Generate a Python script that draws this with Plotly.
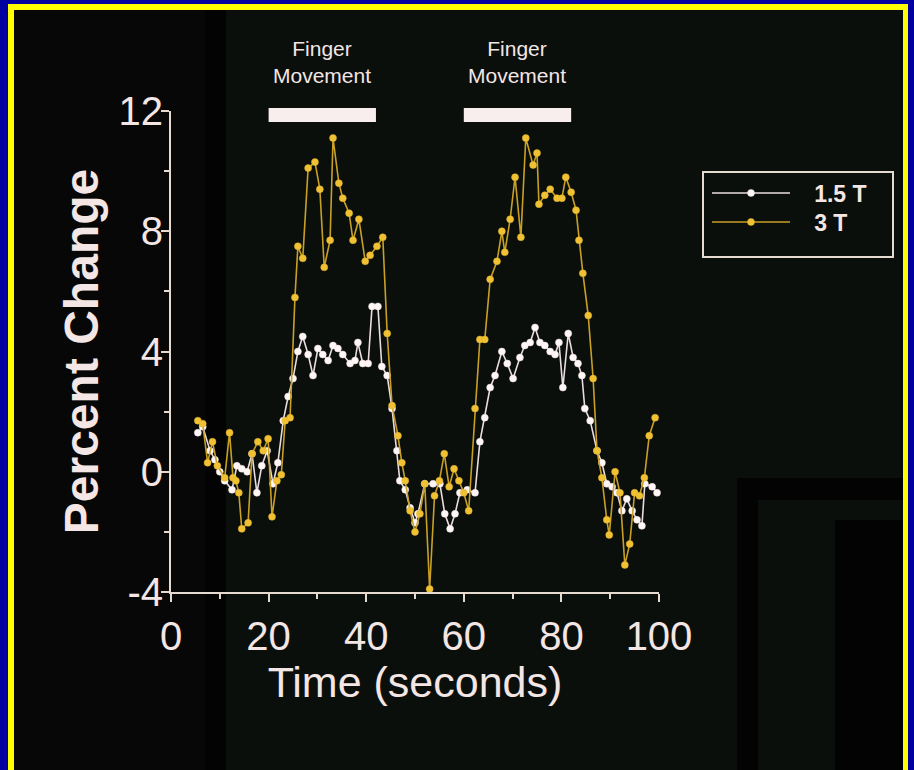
import plotly.graph_objects as go

# ---- data ----
t_15 = [5.5, 6.5, 8, 9, 10, 11, 12.5, 13.5, 14.5, 15.6, 16.6, 17.6, 18.6, 19.7, 20.9, 21.9,
        23, 24, 25, 26, 27, 28.1, 29.1, 30.1, 31.1, 32.2, 33.2, 34.2, 35.2, 36.7, 37.7, 38.3,
        39.3, 40.4, 41.2, 42.4, 43.2, 44.3, 45.3, 46.3, 46.9, 48, 49, 50, 50.6, 52, 53.7, 55.1,
        56.1, 57.2, 58.2, 59.2, 60.7, 62.3, 63.3, 64.3, 65.4, 66.4, 67.8, 68.9, 70.1, 71.5, 72.5,
        73.6, 74.6, 75.6, 76.6, 77.7, 78.7, 79.5, 80.3, 81.4, 82.4, 83.4, 84.2, 84.8, 85.9, 87.3,
        88.3, 89.3, 90.4, 91.4, 92.4, 93.4, 94.5, 95.5, 96.5, 97.1, 98.6, 99.6]
v_15 = [1.3, 1.5, 0.7, 0.4, 0.0, -0.3, -0.6, 0.2, 0.1, 0.0, 0.6, -0.7, 0.2, 0.7, -0.4, 0.3,
        1.7, 2.5, 3.1, 4.0, 4.5, 3.9, 3.2, 4.1, 3.9, 3.7, 4.2, 4.1, 3.9, 3.6, 3.7, 4.3,
        3.6, 3.6, 5.5, 5.5, 3.5, 3.2, 2.1, 0.7, -0.3, -0.6, -1.2, -1.7, -1.4, -0.4, -0.4, -0.4,
        -1.4, -1.9, -1.4, -0.7, -0.6, -0.7, 1.0, 1.8, 2.8, 3.2, 4.0, 3.6, 3.1, 3.8, 4.2,
        4.3, 4.8, 4.3, 4.2, 4.0, 3.9, 4.3, 2.8, 4.6, 3.8, 3.6, 3.2, 2.1, 1.7, 0.7,
        0.3, -0.4, -0.5, -0.7, -1.3, -0.9, -1.3, -1.6, -1.8, -0.4, -0.5, -0.7]

t_3 = [5.5, 6.5, 7.5, 8.5, 9.5, 11, 12, 12.7, 13.3, 13.9, 14.5, 15.8, 16.6, 17.8, 18.9, 19.9,
       20.7, 21.7, 22.6, 23.4, 24.4, 25.4, 26, 27, 28.1, 29.5, 30.5, 31.4, 32.6, 33.2, 34.4,
       35.2, 36.5, 37.3, 38.5, 39.8, 40.8, 42.2, 43.4, 44.3, 45.3, 46.5, 47.3, 48, 49, 50,
       51, 52, 53, 54, 55, 56, 57, 58, 59, 60, 61, 62.3, 63.3, 64.3, 65.4, 66.8, 67.8, 68.4,
       69.5, 70.5, 71.7, 72.7, 74.2, 75, 75.4, 76.6, 77.7, 79.1, 80.1, 80.9, 82, 83, 83.6,
       84.4, 85.5, 86.5, 87.3, 88.3, 89.3, 89.8, 91, 92, 93, 94, 95, 96, 97, 98, 99.2]
v_3 = [1.7, 1.6, 0.3, 1.0, 0.2, -0.2, 1.3, -0.2, -0.3, -0.7, -1.9, -1.7, 0.6, 1.0, 0.7, 1.1,
       -1.5, -0.3, -0.1, 1.7, 1.8, 5.8, 7.5, 7.1, 10.1, 10.3, 9.4, 6.8, 7.7, 11.1, 9.6,
       9.1, 8.6, 7.7, 8.4, 7.0, 7.2, 7.5, 7.8, 4.6, 2.2, 1.2, 0.3, -0.3, -1.3, -2.0,
       -1.4, -0.4, -3.9, -0.8, -0.3, 0.6, -0.5, 0.1, -0.3, -0.7, -1.3, 2.1, 4.4, 4.4, 6.4, 7.0, 8.0, 7.3,
       8.4, 9.8, 7.8, 11.1, 10.2, 10.6, 8.9, 9.2, 9.4, 9.1, 9.1, 9.8, 9.3, 8.7, 7.7,
       6.6, 5.2, 3.1, 0.7, -0.2, -1.6, -2.1, 0.0, -0.7, -3.1, -2.4, -0.7, -0.8, -0.2, 1.2, 1.8]

series_names = ["1.5 T", "3 T"]
x_ticks = [0, 20, 40, 60, 80, 100]
x_ticktext = ["0", "20", "40", "60", "80", "100"]
y_ticks = [-4, 0, 4, 8, 12]
y_ticktext = ["-4", "0", "4", "8", "12"]
blocks = [(20, 42), (60, 82)]
block_label = "Finger<br>Movement"

# ---- layout geometry (pixels) ----
W, H = 914, 770
L, R, T, B = 171, 255, 111, 178
PW, PH = W - L - R, H - T - B

def px(x):
    return (x - L) / PW

def py(y):
    return (H - B - y) / PH

TXT = "#f3e6e4"
AX = "#e6d9cf"
FONT = "Liberation Sans, Arial, sans-serif"
WHITE_LINE = "#eadcdf"
GOLD_LINE = "#c9a026"
PAD = "\u00a0\u00a0\u00a0"   # gap between legend sample and label

fig = go.Figure()
fig.add_trace(go.Scatter(
    x=t_15, y=v_15, name=PAD + series_names[0], mode="lines+markers", legend="legend",
    line=dict(color=WHITE_LINE, width=1.6),
    marker=dict(color="#fff6f6", size=7, line=dict(color="#f0e0e4", width=0.5)),
    cliponaxis=False))
fig.add_trace(go.Scatter(
    x=t_3, y=v_3, name=PAD + series_names[1], mode="lines+markers", legend="legend2",
    line=dict(color=GOLD_LINE, width=1.6),
    marker=dict(color="#f0c233", size=7, line=dict(color="#e0b02a", width=0.5)),
    cliponaxis=False))

shapes = []
def rect(x0, y0, x1, y1, color, layer="below", line=None):
    shapes.append(dict(type="rect", xref="paper", yref="paper", layer=layer,
                       x0=px(x0), x1=px(x1), y0=py(y1), y1=py(y0),
                       fillcolor=color, line=line or dict(width=0)))

# frame: blue outer, yellow inner, dark photo background inside
rect(8, 4, 908, 775, "#ffff00")
rect(14, 10, 903, 775, "#070707")
rect(205, 10, 226, 775, "#030303")
rect(226, 10, 903, 775, "#0a0f0c")
rect(737, 478, 758, 775, "#030303")
rect(737, 478, 903, 500, "#030303")
rect(835, 520, 903, 775, "#030303")

# legend frame
rect(703, 172, 893, 257, "rgba(0,0,0,0)", layer="above", line=dict(color=AX, width=2))

for a, b in blocks:
    shapes.append(dict(type="rect", xref="x", yref="paper", layer="above",
                       x0=a, x1=b, y0=py(122), y1=py(108),
                       fillcolor="#f8eeee", line=dict(width=0)))

annotations = []
for a, b in blocks:
    annotations.append(dict(x=(a + b) / 2, y=py(62), xref="x", yref="paper",
                            xanchor="center", yanchor="middle",
                            text=block_label, showarrow=False,
                            font=dict(family=FONT, size=21, color=TXT)))

leg_common = dict(x=px(707), xanchor="left", yanchor="middle",
                  bgcolor="rgba(0,0,0,0)", borderwidth=0,
                  font=dict(family=FONT, size=23, color=TXT, weight="bold"),
                  itemwidth=78)

fig.update_layout(
    width=W, height=H,
    margin=dict(l=L, r=R, t=T, b=B, pad=0),
    paper_bgcolor="#0000a0",
    plot_bgcolor="rgba(0,0,0,0)",
    shapes=shapes, annotations=annotations,
    showlegend=True,
    legend=dict(y=py(193), **leg_common),
    legend2=dict(y=py(222), **leg_common),
    xaxis=dict(range=[0, 100], tickvals=x_ticks, ticktext=x_ticktext, ticks="outside",
               ticklen=8, tickwidth=2,
               tickcolor=AX, showline=True, linecolor=AX, linewidth=2, showgrid=False,
               zeroline=False,
               minor=dict(dtick=10, ticks="outside", ticklen=5, tickwidth=2, tickcolor=AX),
               tickfont=dict(family=FONT, size=40, color=TXT),
               title=dict(text="Time (seconds)", font=dict(family=FONT, size=43, color=TXT),
                          standoff=6)),
    yaxis=dict(range=[-4, 12], tickvals=y_ticks, ticktext=y_ticktext, ticks="outside",
               ticklen=8, tickwidth=2, ticklabelstandoff=-10,
               tickcolor=AX, showline=True, linecolor=AX, linewidth=2, showgrid=False,
               zeroline=False,
               minor=dict(dtick=2, ticks="outside", ticklen=5, tickwidth=2, tickcolor=AX),
               tickfont=dict(family=FONT, size=40, color=TXT),
               title=dict(text="Percent Change", font=dict(family=FONT, size=48, color=TXT, weight="bold"),
                          standoff=5)),
)

fig.write_html("out.html", config={"displayModeBar": False},
               post_script="document.body.style.margin='0';document.body.style.background='#0000a0';")
